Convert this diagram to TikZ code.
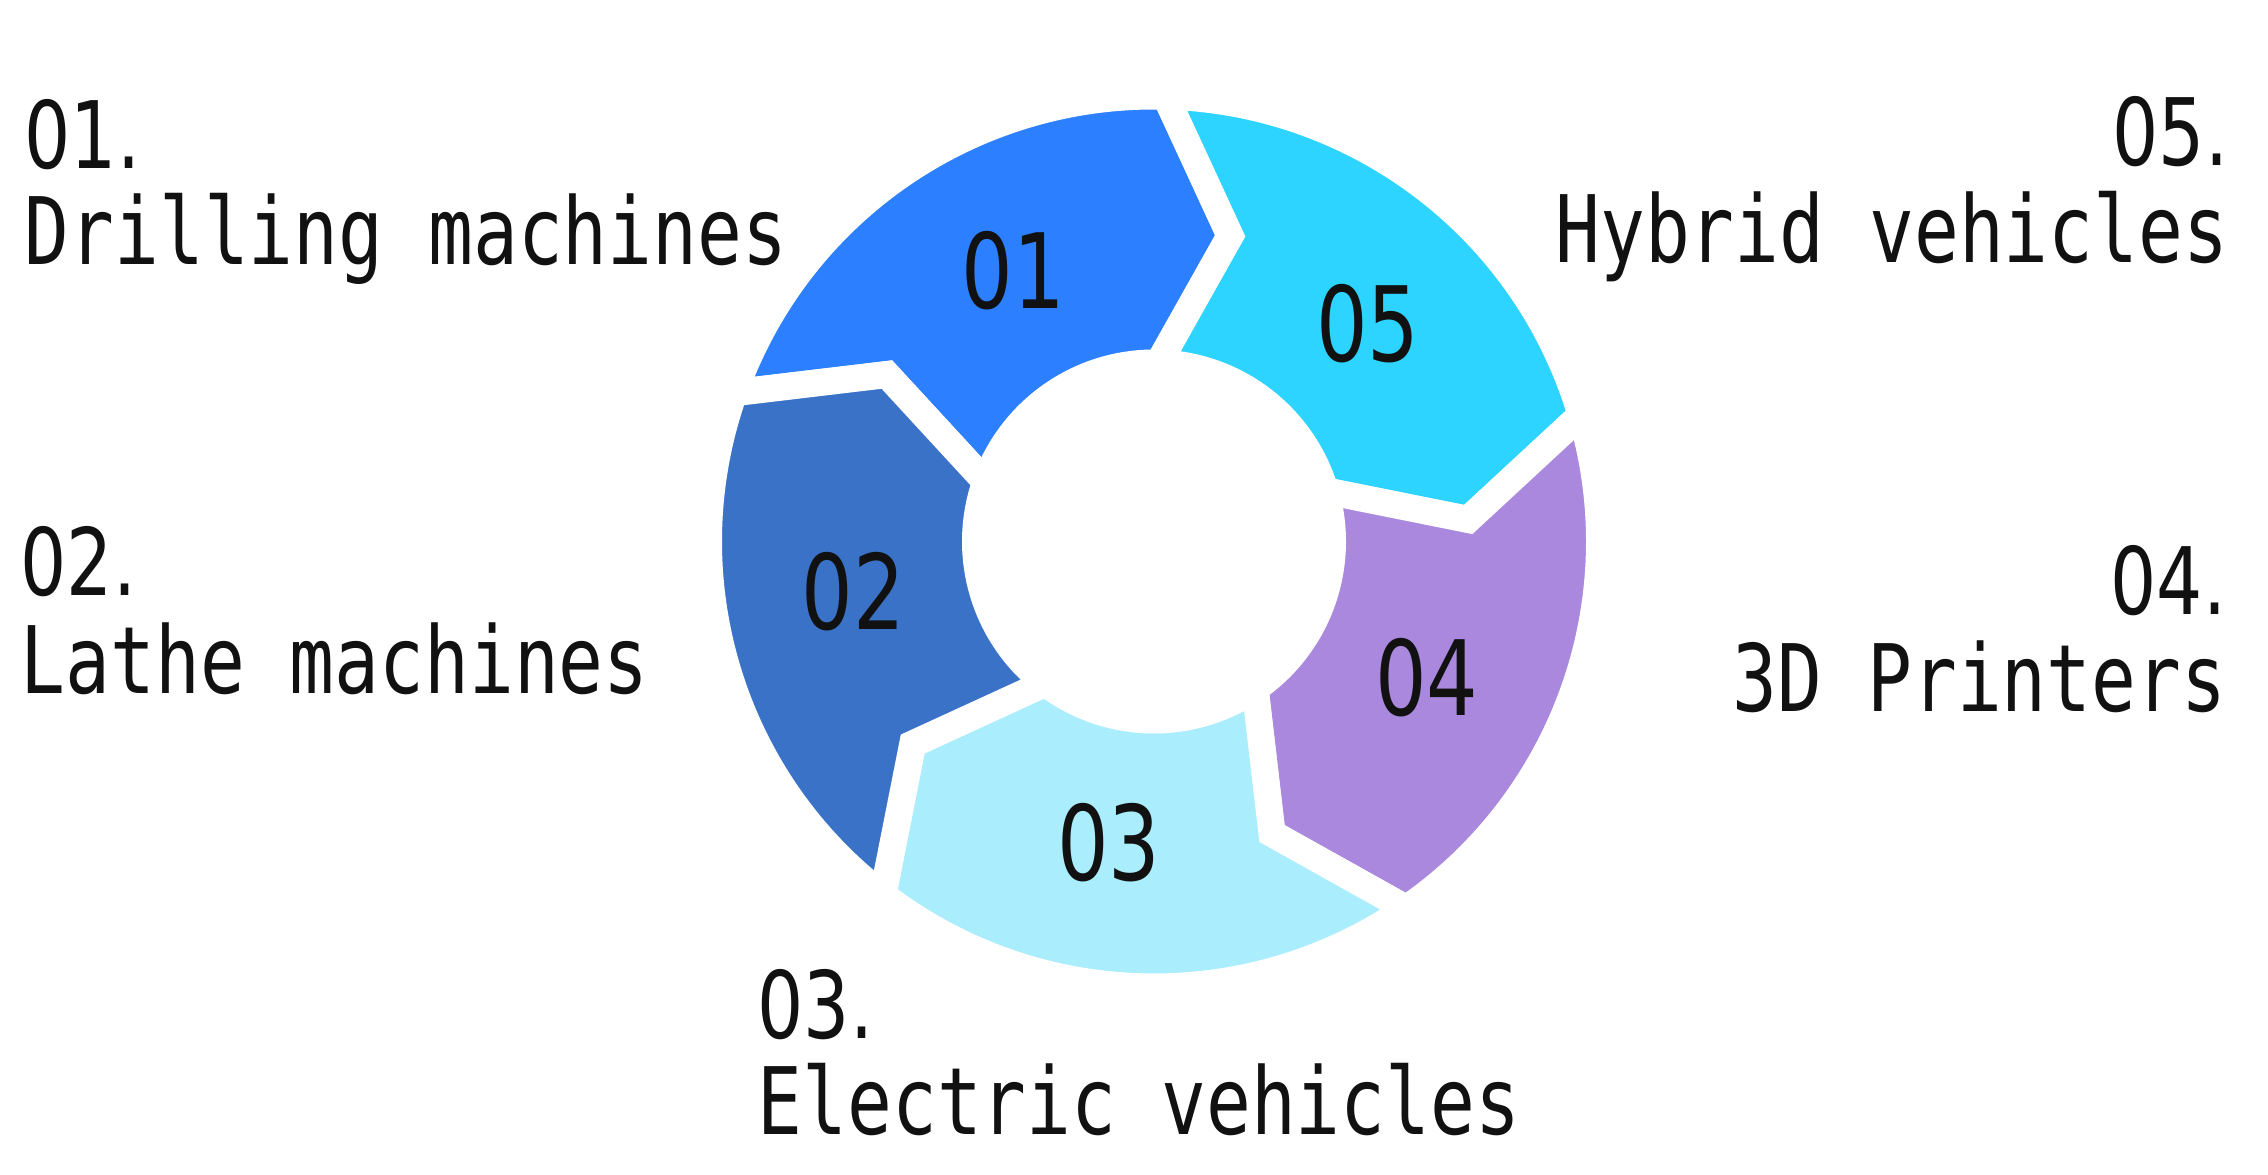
\documentclass[tikz,border=0pt]{standalone}
\usepackage{fontspec}
\newfontfamily\techfont{DejaVu Sans Mono}[FakeStretch=0.8]
\newfontfamily\digitfont{DejaVu Sans}[FakeStretch=0.78]
\usetikzlibrary{positioning}
\definecolor{segOne}{HTML}{2C80FF}
\definecolor{segTwo}{HTML}{3A72C8}
\definecolor{segThree}{HTML}{AAEDFD}
\definecolor{segFour}{HTML}{A988DD}
\definecolor{segFive}{HTML}{2CD4FF}
\definecolor{ink}{HTML}{111111}

\begin{document}
\begin{tikzpicture}[
  gap/.style={draw=white, line width=2.7mm, line join=miter},
  tag/.style={inner sep=0pt, text=ink, font=\techfont\fontsize{26.5}{26.5}\selectfont},
  numtag/.style={inner sep=0pt, text=ink, font=\digitfont\fontsize{26.5}{26.5}\selectfont},
  ringnum/.style={inner sep=0pt, text=ink, font=\digitfont\fontsize{29.6}{29.6}\selectfont}
]
\useasboundingbox (0,0) rectangle (22.68,11.75);

% ring of five arrow segments, clockwise
\begin{scope}[shift={(11.54,6.335)}]
\foreach \segstart/\col/\num in {160.5/segOne/01, 88.5/segFive/05, 16.5/segFour/04, -55.5/segThree/03, -127.5/segTwo/02}{
  \pgfmathsetmacro{\segend}{\segstart-72}
  \filldraw[gap, fill=\col] (\segstart:4.455) arc[start angle=\segstart, end angle=\segend, radius=4.455]
    -- (\segend-12.5:3.15) -- (\segend:1.785) arc[start angle=\segend, end angle=\segstart, radius=1.785]
    -- (\segstart-12.5:3.15) -- cycle;
  \node[ringnum] (seg\num) at (\segstart-43:3.05) {\num};
}
\end{scope}

% side captions
\node[numtag, anchor=base west] (num01) at (0.24,10.06) {01.};
\node[tag, anchor=base west] (name01) at ([yshift=-0.96cm]num01.base west) {Drilling machines};
\node[numtag, anchor=base west] (num02) at (0.20,5.79) {02.};
\node[tag, anchor=base west] (name02) at ([yshift=-0.98cm]num02.base west) {Lathe machines};
\node[numtag, anchor=base west] (num03) at (7.57,1.365) {03.};
\node[tag, anchor=base west] (name03) at ([yshift=-0.965cm]num03.base west) {Electric vehicles};
\node[numtag, anchor=base east] (num04) at (22.27,5.60) {04.};
\node[tag, anchor=base east] (name04) at ([yshift=-0.97cm]num04.base east) {3D Printers};
\node[numtag, anchor=base east] (num05) at (22.29,10.09) {05.};
\node[tag, anchor=base east] (name05) at ([yshift=-0.97cm]num05.base east) {Hybrid vehicles};
\end{tikzpicture}
\end{document}
